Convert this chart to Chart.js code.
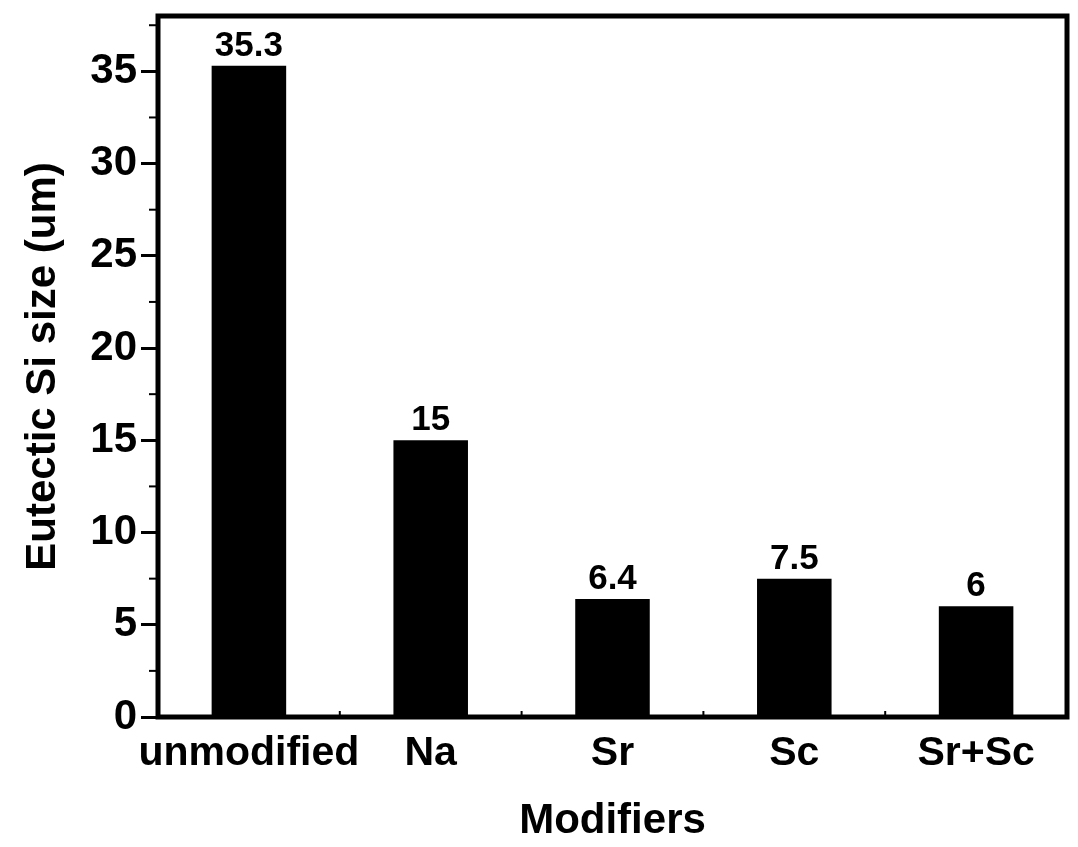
<!DOCTYPE html>
<html>
<head>
<meta charset="utf-8">
<script src="https://cdn.jsdelivr.net/npm/chart.js@4.4.1/dist/chart.umd.min.js"></script>
<style>
  html, body { margin: 0; padding: 0; background: #fff; }
  #wrap { width: 1078px; height: 847px; }
</style>
</head>
<body>
<div id="wrap"><canvas id="chart" width="1078" height="847"></canvas></div>
<script>
const modifiers = ['unmodified', 'Na', 'Sr', 'Sc', 'Sr+Sc'];
const siSize = [35.3, 15, 6.4, 7.5, 6];
const valueLabels = ['35.3', '15', '6.4', '7.5', '6'];
const yMin = 0;
const yMax = 38;
const yStep = 5;
const yMinorStep = 2.5;

const FONT = "'Liberation Sans', Arial, Helvetica, sans-serif";

// frame, minor ticks and value labels
const extras = {
  id: 'extras',
  afterDatasetsDraw(chart) {
    const ctx = chart.ctx;
    const a = chart.chartArea;
    const ys = chart.scales.y;
    const xs = chart.scales.x;

    ctx.save();
    ctx.strokeStyle = '#000';
    ctx.lineWidth = 2;
    // minor y ticks (outward)
    for (let v = yMin + yMinorStep; v < yMax; v += yStep) {
      const py = ys.getPixelForValue(v);
      ctx.beginPath();
      ctx.moveTo(a.left - 9, py);
      ctx.lineTo(a.left, py);
      ctx.stroke();
    }
    // small inward ticks between categories on the bottom axis
    for (let i = 0; i < modifiers.length - 1; i++) {
      const px = (xs.getPixelForValue(i) + xs.getPixelForValue(i + 1)) / 2;
      ctx.beginPath();
      ctx.moveTo(px, a.bottom);
      ctx.lineTo(px, a.bottom - 6);
      ctx.stroke();
    }
    // frame
    ctx.lineWidth = 5;
    ctx.strokeRect(a.left, a.top, a.right - a.left, a.bottom - a.top);

    // value labels
    const meta = chart.getDatasetMeta(0);
    ctx.fillStyle = '#000';
    ctx.font = 'bold 35px ' + FONT;
    ctx.textAlign = 'center';
    ctx.textBaseline = 'bottom';
    meta.data.forEach((bar, i) => {
      ctx.fillText(valueLabels[i], bar.x, bar.y - 2);
    });
    ctx.restore();
  }
};

new Chart(document.getElementById('chart'), {
  type: 'bar',
  data: {
    labels: modifiers,
    datasets: [{
      data: siSize,
      backgroundColor: '#000',
      borderWidth: 0,
      categoryPercentage: 1,
      barPercentage: 0.41
    }]
  },
  options: {
    responsive: false,
    animation: false,
    layout: { padding: { top: 16, right: 11, left: 0, bottom: 0 } },
    plugins: { legend: { display: false }, tooltip: { enabled: false } },
    scales: {
      x: {
        offset: true,
        grid: { display: false, drawTicks: false },
        border: { display: false },
        ticks: {
          color: '#000',
          padding: 12,
          autoSkip: false,
          maxRotation: 0,
          font: { family: FONT, size: 41, weight: 'bold' }
        },
        title: {
          display: true,
          text: 'Modifiers',
          color: '#000',
          font: { family: FONT, size: 42, weight: 'bold' },
          padding: { top: 0, bottom: 0 }
        },
        afterFit(scale) {
          scale.height = 130;
          scale.paddingLeft = 0;
          scale.paddingRight = 0;
        }
      },
      y: {
        min: yMin,
        max: yMax,
        grid: {
          drawOnChartArea: false,
          drawTicks: true,
          tickLength: 17,
          tickWidth: 3,
          tickColor: '#000'
        },
        border: { display: false },
        ticks: {
          stepSize: yStep,
          includeBounds: false,
          color: '#000',
          padding: 4,
          font: { family: FONT, size: 42, weight: 'bold' }
        },
        title: {
          display: true,
          text: 'Eutectic Si size (um)',
          color: '#000',
          font: { family: FONT, size: 42, weight: 'bold' },
          padding: { top: 18, bottom: 0 }
        },
        afterFit(scale) {
          scale.width = 158;
          scale.paddingTop = 0;
          scale.paddingBottom = 0;
        }
      }
    }
  },
  plugins: [extras]
});
</script>
</body>
</html>
